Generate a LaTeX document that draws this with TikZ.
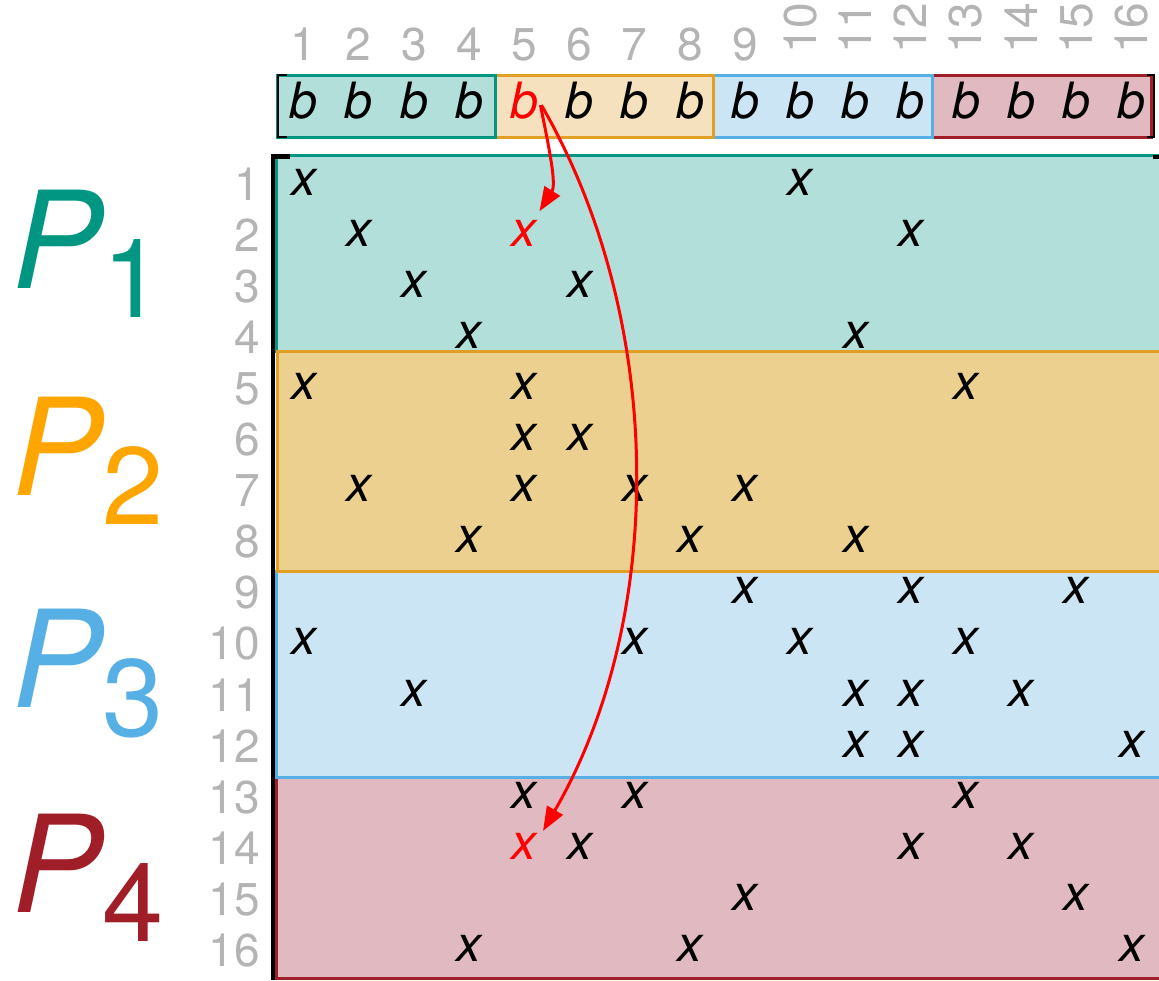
\documentclass[tikz,border=0pt]{standalone}
\usepackage{fontspec}
\setmainfont{TeX Gyre Heros}
\usetikzlibrary{arrows.meta}
\definecolor{cA}{RGB}{0,150,130}
\definecolor{cAfill}{RGB}{178,223,217}
\definecolor{cB}{RGB}{255,165,0}
\definecolor{cBline}{RGB}{225,160,35}
\definecolor{cBfill}{RGB}{236,208,143}
\definecolor{cBvfill}{RGB}{245,225,190}
\definecolor{cC}{RGB}{86,176,230}
\definecolor{cCfill}{RGB}{203,229,245}
\definecolor{cD}{RGB}{160,30,40}
\definecolor{cDfill}{RGB}{224,186,192}
\definecolor{lab}{RGB}{180,180,180}
\begin{document}
\begin{tikzpicture}[x=1pt,y=-1pt,
 lbl/.style={text=lab, font=\fontsize{46}{46}\selectfont, inner sep=0pt},
 ent/.style={font=\fontsize{50}{50}\selectfont\itshape, inner sep=0pt, anchor=base},
 plab/.style={font=\fontsize{135}{135}\selectfont, inner sep=0pt, anchor=base west},
 hl/.style={text=red},
 band/.style={line width=3pt},
 brk/.style={line width=1.6pt},
 arr/.style={red, line width=3pt, -{Triangle[length=24pt,width=18pt]}}
]
\useasboundingbox (0,0) rectangle (1159,980);
% vector segments
\draw[band, cD, fill=cDfill] (932,75) rectangle (1151,137);
\draw[band, cC, fill=cCfill] (713,75) rectangle (932,137);
\draw[band, cBline, fill=cBvfill] (495,75) rectangle (713,137);
\draw[band, cA, fill=cAfill] (277,75) rectangle (495,137);
\draw[brk] (287,75) -- (278,75) -- (278,137) -- (287,137);
\draw[brk] (1147,75) -- (1154,75) -- (1154,137) -- (1147,137);
% matrix bands
\draw[band, cA, fill=cAfill] (276,155.5) rectangle (1170,351);
\draw[band, cD, fill=cDfill] (276,777) rectangle (1170,978);
\draw[band, cC, fill=cCfill] (276,571) rectangle (1170,777);
\draw[band, cBline, fill=cBfill] (277.5,351) rectangle (1170,571);
\draw[line width=4.3pt] (290,156.5) -- (273,156.5) -- (273,980);
\draw[line width=4pt] (1153,157) -- (1165,157);
% column labels
\foreach \c in {1,...,9}
  \node[lbl, anchor=base] (c\c) at ({248.3+55.2*\c},60) {\c};
\foreach \c in {10,...,16}
  \node[lbl, anchor=base west, rotate=90] (c\c) at ({264.3+55.2*\c},54) {\c};
% row labels
\foreach \r in {1,...,16}
  \node[lbl, anchor=base east] (r\r) at (260,{148.9+51.1*\r}) {\r};
% vector entries
\foreach \c in {1,2,3,4,6,7,8,9,10,11,12,13,14,15,16}
  \node[ent] (b\c) at ({248.3+55.2*\c},118) {b};
\node[ent, hl] (b5) at ({248.3+55.2*5},118) {b};
% matrix entries
\foreach \r/\cols in {1/{1,10},2/{2,12},3/{3,6},4/{4,11},5/{1,5,13},6/{5,6},7/{2,5,7,9},8/{4,8,11},9/{9,12,15},10/{1,7,10,13},11/{3,11,12,14},12/{11,12,16},13/{5,7,13},14/{6,12,14},15/{9,15},16/{4,8,16}}
  \foreach \c in \cols
    \node[ent] (x\r-\c) at ({248.3+55.2*\c},{143.9+51.1*\r}) {x};
\node[ent, hl] (x2-5) at ({248.3+55.2*5},{143.9+51.1*2}) {x};
\node[ent, hl] (x14-5) at ({248.3+55.2*5},{143.9+51.1*14}) {x};
% part labels
\node[plab, text=cA] (P1) at (12,288) {\itshape P\raisebox{-29pt}{\fontsize{110}{110}\selectfont\upshape 1}};
\node[plab, text=cB] (P2) at (12,495) {\itshape P\raisebox{-29pt}{\fontsize{110}{110}\selectfont\upshape 2}};
\node[plab, text=cC] (P3) at (12,707) {\itshape P\raisebox{-29pt}{\fontsize{110}{110}\selectfont\upshape 3}};
\node[plab, text=cD] (P4) at (12,912) {\itshape P\raisebox{-29pt}{\fontsize{110}{110}\selectfont\upshape 4}};
% arrows
\draw[arr] ([shift={(2,5)}]b5.east) .. controls +(9,44) and +(17,-27) .. ([shift={(2.5,-8.5)}]x2-5.north east);
\draw[arr] ([shift={(3,5)}]b5.east) .. controls +(124,214) and +(124,-214) .. ([shift={(6,-2)}]x14-5.north east);
\end{tikzpicture}
\end{document}
